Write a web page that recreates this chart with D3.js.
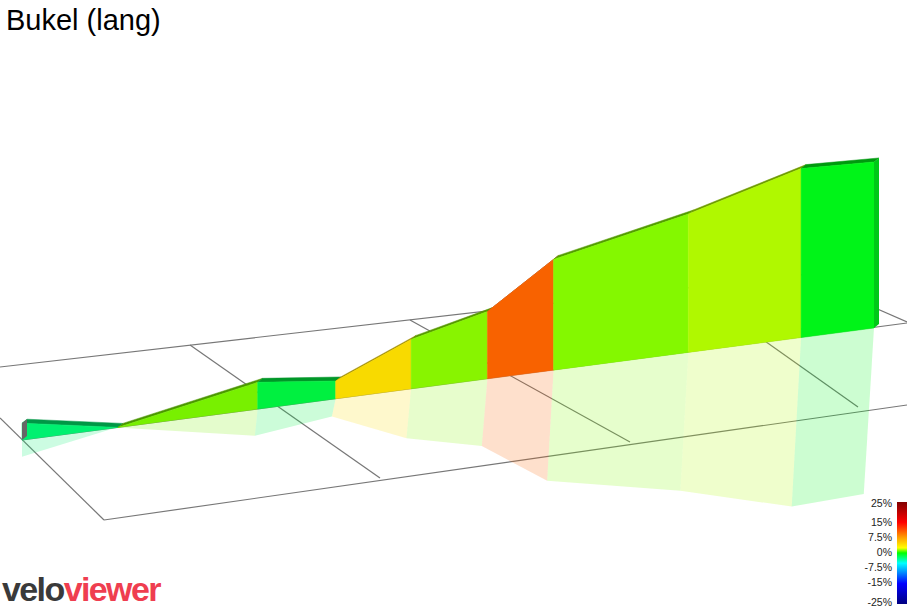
<!DOCTYPE html>
<html><head><meta charset="utf-8">
<script src="https://cdn.jsdelivr.net/npm/d3@7"></script>
<style>body{margin:0;background:#fff}svg{display:block;font-family:Arial,"Liberation Sans",sans-serif}</style>
</head><body><svg id="c" width="907" height="607"></svg>
<script>
const distKm = [0, 0.113, 0.278, 0.370, 0.459, 0.549, 0.627, 0.786, 0.919, 1.005];
const elevM  = [17, 0, 27, 18, 50, 68, 112, 140, 171, 168];
const segColors = ["#00f070","#78f000","#00f040","#f8da00","#88f400","#f86200","#84f800","#b0f800","#00f418"];
const legendLabels = ["25%","15%","7.5%","0%","-7.5%","-15%","-25%"];
const legendStops = [[0,"#800000"],[0.2,"#ff0000"],[0.35,"#ffa000"],[0.45,"#ffff00"],[0.5,"#00ff00"],[0.6,"#00ffff"],[0.8,"#0000ff"],[1,"#000080"]];
const gridLines = [[[0,367],[860,268]],[[104,520],[907,405]],[[0,418],[104,520]],[[190,345],[380,478]],[[410,320],[630,442]],[[690,288],[858,407]],[[850,297],[907,322]]];

const svg = d3.select("#c");
const x = d3.scaleLinear().domain([0, 1.005]).range([22, 874]);
const baseY = d3.scaleLinear().domain([22, 874]).range([440, 328]);
const h = d3.scaleLinear().domain([0, 171]).range([0, 169]);

const pts = distKm.map((d,i)=>({x:x(d), b:baseY(x(d)), t:baseY(x(d))-h(elevM[i])}));

svg.append("g").selectAll("line").data(gridLines.concat([[[22,440],[907,323]]])).join("line")
  .attr("x1",d=>d[0][0]).attr("y1",d=>d[0][1]).attr("x2",d=>d[1][0]).attr("y2",d=>d[1][1])
  .attr("stroke","#777").attr("stroke-width",1.2);

const segs = d3.range(pts.length-1).map(i=>({a:pts[i],c:pts[i+1],col:segColors[i]}));
const rx = p => p.x - (p.x-22)*0.012;
svg.append("g").selectAll("path").data(segs).join("path")
  .attr("d",s=>`M${s.a.x},${s.a.b}L${s.c.x},${s.c.b}L${rx(s.c)},${2*s.c.b-s.c.t}L${rx(s.a)},${2*s.a.b-s.a.t}Z`)
  .attr("fill",s=>s.col).attr("opacity",0.2);
const dx=5, dy=-4;
svg.append("g").selectAll("path").data(segs).join("path")
  .attr("d",s=>`M${s.a.x},${s.a.t}L${s.c.x},${s.c.t}L${s.c.x+dx},${s.c.t+dy}L${s.a.x+dx},${s.a.t+dy}Z`)
  .attr("fill",s=>d3.color(s.col).darker(1.3)).attr("stroke",s=>d3.color(s.col).darker(1.3)).attr("stroke-width",0.5);
svg.append("g").selectAll("path").data(segs).join("path")
  .attr("d",s=>`M${s.a.x},${s.a.b}L${s.c.x},${s.c.b}L${s.c.x},${s.c.t}L${s.a.x},${s.a.t}Z`)
  .attr("fill",s=>s.col).attr("stroke",s=>s.col).attr("stroke-width",0.5);
const p0=pts[0], pn=pts[pts.length-1];
svg.append("path").attr("d",`M${p0.x},${p0.b}L${p0.x},${p0.t}L${p0.x+dx},${p0.t+dy}L${p0.x+dx},${p0.b+dy}Z`).attr("fill","#666");
svg.append("path").attr("d",`M${pn.x},${pn.b}L${pn.x},${pn.t}L${pn.x+dx},${pn.t+dy}L${pn.x+dx},${pn.b+dy}Z`).attr("fill","#00c818");

svg.append("text").attr("x",6).attr("y",30).attr("font-size",29).attr("fill","#000").text("Bukel (lang)");

const logo = svg.append("text").attr("x",2).attr("y",601).attr("font-size",34).attr("font-weight","bold").attr("letter-spacing",-1.6);
logo.append("tspan").attr("fill","#3a3a3a").text("velo");
logo.append("tspan").attr("fill","#ef3e50").text("viewer");

const grad = svg.append("defs").append("linearGradient").attr("id","lg").attr("x1",0).attr("y1",0).attr("x2",0).attr("y2",1);
grad.selectAll("stop").data(legendStops).join("stop").attr("offset",d=>d[0]).attr("stop-color",d=>d[1]);
svg.append("rect").attr("x",897).attr("y",502).attr("width",10).attr("height",102).attr("fill","url(#lg)");
const lyPos=[503,522,537,552,567,582,602];
svg.append("g").selectAll("text").data(legendLabels).join("text")
  .attr("x",892).attr("y",(d,i)=>lyPos[i]+4).attr("text-anchor","end").attr("font-size",10.5).attr("fill","#222").text(d=>d);
</script></body></html>
